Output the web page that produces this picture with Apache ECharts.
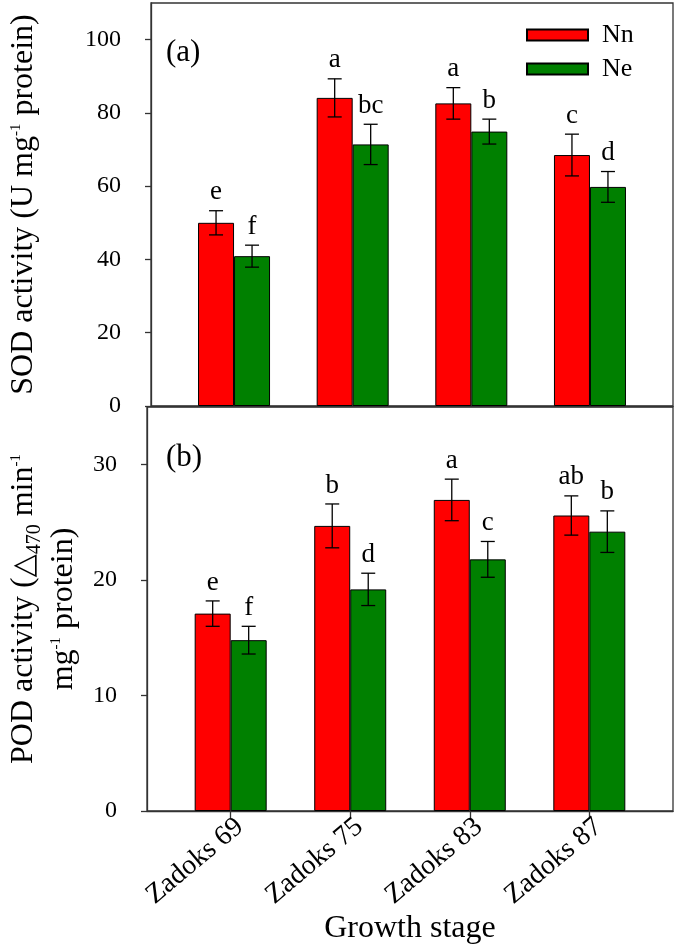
<!DOCTYPE html>
<html>
<head>
<meta charset="utf-8">
<style>
  html, body { margin: 0; padding: 0; background: #fff; }
  #chart { width: 675px; height: 946px; }
</style>
<script src="https://cdn.jsdelivr.net/npm/echarts@6/dist/echarts.min.js"></script>
</head>
<body>
<div id="chart"></div>
<script>
// ---------- data ----------
const categories = ['Zadoks 69', 'Zadoks 75', 'Zadoks 83', 'Zadoks 87'];
const seriesNames = ['Nn', 'Ne'];

const sodNn = [50.0, 84.1, 82.6, 68.5];
const sodNnErr = [3.3, 5.2, 4.3, 5.7];
const sodNnLetters = ['e', 'a', 'a', 'c'];
const sodNe = [40.9, 71.4, 74.9, 59.8];
const sodNeErr = [3.0, 5.5, 3.4, 4.2];
const sodNeLetters = ['f', 'bc', 'b', 'd'];

const podNn = [17.1, 24.7, 26.95, 25.6];
const podNnErr = [1.1, 1.9, 1.8, 1.7];
const podNnLetters = ['e', 'b', 'a', 'ab'];
const podNe = [14.8, 19.2, 21.8, 24.2];
const podNeErr = [1.2, 1.4, 1.55, 1.8];
const podNeLetters = ['f', 'd', 'c', 'b'];

const sodTicks = [0, 20, 40, 60, 80, 100];
const podTicks = [0, 10, 20, 30];

// ---------- style ----------
const FONT = '"Liberation Serif", "Times New Roman", serif';
const RED = '#ff0000';
const GREEN = '#008000';
const FRAME = '#333333';
const BAR_W = 36;
const CAP = 7;
const catPos = categories.map((c, i) => i + 1);

function pairs(vals) { return vals.map((v, i) => [catPos[i], v]); }
function triples(vals, errs) { return vals.map((v, i) => [catPos[i], v, errs[i]]); }

function errRender(letters, side) {
  return function (params, api) {
    const i = params.dataIndex;
    const x = api.value(0), m = api.value(1), e = api.value(2);
    const top = api.coord([x, m + e]);
    const bot = api.coord([x, m - e]);
    const cx = top[0] + side * BAR_W / 2;
    const ls = { stroke: '#000', lineWidth: 1.3 };
    return {
      type: 'group',
      children: [
        { type: 'line', shape: { x1: cx, y1: top[1], x2: cx, y2: bot[1] }, style: ls },
        { type: 'line', shape: { x1: cx - CAP, y1: top[1], x2: cx + CAP, y2: top[1] }, style: ls },
        { type: 'line', shape: { x1: cx - CAP, y1: bot[1], x2: cx + CAP, y2: bot[1] }, style: ls },
        { type: 'text', style: { text: letters[i], x: cx, y: top[1] - 5, align: 'center', verticalAlign: 'bottom',
          fontSize: 27, fontFamily: FONT, fill: '#000' } }
      ]
    };
  };
}

const richName = {
  t: { fontSize: 32, fontFamily: FONT, color: '#000', verticalAlign: 'bottom', padding: [0, 0, 8, 0] },
  sup: { fontSize: 15, fontFamily: FONT, color: '#000', verticalAlign: 'bottom', padding: [0, 0, 24, 0] },
  sub: { fontSize: 20, fontFamily: FONT, color: '#000', verticalAlign: 'bottom', padding: [0, 0, 3, 0] },
  tri: { fontSize: 30, fontFamily: '"DejaVu Sans", sans-serif', color: '#000', verticalAlign: 'bottom', padding: [0, 0, 8, 0] }
};

function yAxisCommon(grid, max, ticks) {
  return {
    type: 'value', gridIndex: grid, min: 0, max: max,
    axisLine: { show: true, lineStyle: { color: FRAME, width: 1.3 } },
    axisTick: { show: true, customValues: ticks, length: 6, lineStyle: { color: FRAME, width: 1.3 } },
    axisLabel: { customValues: ticks, fontSize: 24, fontFamily: FONT, color: '#000', margin: 30 },
    splitLine: { show: false },
    nameLocation: 'middle', nameRotate: 90,
    nameTextStyle: { rich: richName, align: 'center' }
  };
}

const chart = echarts.init(document.getElementById('chart'), null, { renderer: 'canvas' });

const option = {
  backgroundColor: '#fff',
  animation: false,
  title: [
    { text: '(a)', left: 166, top: 37, padding: 0, textStyle: { fontSize: 31, fontWeight: 'normal', fontFamily: FONT, color: '#000' } },
    { text: '(b)', left: 166, top: 442, padding: 0, textStyle: { fontSize: 31, fontWeight: 'normal', fontFamily: FONT, color: '#000' } }
  ],
  legend: {
    data: seriesNames, orient: 'vertical', left: 526, top: 22, padding: 0,
    icon: 'rect', itemWidth: 61, itemHeight: 11, itemGap: 8,
    textStyle: { fontSize: 26, fontFamily: FONT, color: '#000', padding: [0, 0, 0, 9] }
  },
  grid: [
    { left: 143, right: 2, top: 3, height: 403, show: true, borderColor: FRAME, borderWidth: 1.3, backgroundColor: 'transparent' },
    { left: 143, right: 2, top: 407, height: 404, show: true, borderColor: FRAME, borderWidth: 1.3, backgroundColor: 'transparent' }
  ],
  xAxis: [
    { type: 'value', gridIndex: 0, min: 0.3, max: 4.7,
      axisLine: { show: true, onZero: false, lineStyle: { color: FRAME, width: 1.3 } },
      axisTick: { show: false }, axisLabel: { show: false }, splitLine: { show: false } },
    { type: 'value', gridIndex: 1, min: 0.3, max: 4.7,
      axisLine: { show: true, onZero: false, lineStyle: { color: FRAME, width: 1.3 } },
      axisTick: { show: true, customValues: catPos, length: 7, lineStyle: { color: FRAME, width: 1.3 } },
      axisLabel: { customValues: catPos, formatter: v => categories[Math.round(v) - 1],
        rotate: 40, align: 'right', verticalAlign: 'middle', margin: 20, padding: [0, -12, 0, 0],
        fontSize: 28, fontFamily: FONT, color: '#000' },
      splitLine: { show: false },
      name: 'Growth stage', nameLocation: 'middle', nameGap: 101,
      nameTextStyle: { fontSize: 32, fontFamily: FONT, color: '#000' } }
  ],
  yAxis: [
    Object.assign(yAxisCommon(0, 110, sodTicks), {
      name: '{t|SOD activity (U mg}{sup|-1}{t| protein)}', nameGap: 103 }),
    Object.assign(yAxisCommon(1, 35, podTicks), {
      name: '{t|POD activity (}{tri|△}{sub|470}{t| min}{sup|-1}\n{t|mg}{sup|-1}{t| protein)}', nameGap: 59 })
  ],
  series: [
    { name: 'Nn', type: 'bar', xAxisIndex: 0, yAxisIndex: 0, data: pairs(sodNn), barWidth: BAR_W, barGap: '0%',
      itemStyle: { color: RED, borderColor: '#000', borderWidth: 1 } },
    { name: 'Ne', type: 'bar', xAxisIndex: 0, yAxisIndex: 0, data: pairs(sodNe), barWidth: BAR_W, barGap: '0%',
      itemStyle: { color: GREEN, borderColor: '#000', borderWidth: 1 } },
    { name: 'Nn', type: 'bar', xAxisIndex: 1, yAxisIndex: 1, data: pairs(podNn), barWidth: BAR_W, barGap: '0%',
      itemStyle: { color: RED, borderColor: '#000', borderWidth: 1 } },
    { name: 'Ne', type: 'bar', xAxisIndex: 1, yAxisIndex: 1, data: pairs(podNe), barWidth: BAR_W, barGap: '0%',
      itemStyle: { color: GREEN, borderColor: '#000', borderWidth: 1 } },
    { name: 'errSodNn', type: 'custom', xAxisIndex: 0, yAxisIndex: 0, data: triples(sodNn, sodNnErr),
      encode: { x: 0, y: 1 }, renderItem: errRender(sodNnLetters, -1), z: 5 },
    { name: 'errSodNe', type: 'custom', xAxisIndex: 0, yAxisIndex: 0, data: triples(sodNe, sodNeErr),
      encode: { x: 0, y: 1 }, renderItem: errRender(sodNeLetters, 1), z: 5 },
    { name: 'errPodNn', type: 'custom', xAxisIndex: 1, yAxisIndex: 1, data: triples(podNn, podNnErr),
      encode: { x: 0, y: 1 }, renderItem: errRender(podNnLetters, -1), z: 5 },
    { name: 'errPodNe', type: 'custom', xAxisIndex: 1, yAxisIndex: 1, data: triples(podNe, podNeErr),
      encode: { x: 0, y: 1 }, renderItem: errRender(podNeLetters, 1), z: 5 }
  ]
};
chart.setOption(option);
</script>
</body>
</html>
